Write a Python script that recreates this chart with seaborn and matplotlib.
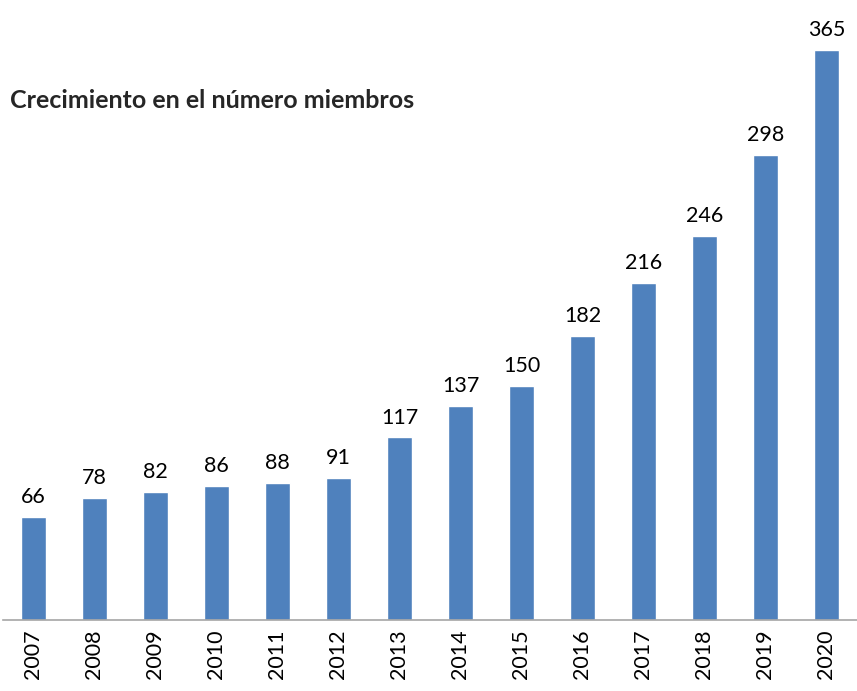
import matplotlib
matplotlib.use('Agg')
import matplotlib.pyplot as plt
import seaborn as sns
import pandas as pd

years = ['2007', '2008', '2009', '2010', '2011', '2012', '2013',
         '2014', '2015', '2016', '2017', '2018', '2019', '2020']
members = [66, 78, 82, 86, 88, 91, 117, 137, 150, 182, 216, 246, 298, 365]

sns.set_style('white')
plt.rcParams['font.family'] = ['Lato', 'DejaVu Sans']

df = pd.DataFrame({'year': years, 'members': members})

fig = plt.figure(figsize=(8.57, 6.91), dpi=100)
ax = fig.add_axes([0.0035, 0.1027, 0.9965, 0.8973])

sns.barplot(data=df, x='year', y='members', color='#4f81bd', width=0.4,
            saturation=1, ax=ax)
ax.bar_label(ax.containers[0], labels=[str(v) for v in members],
             padding=7, fontsize=15.5, color='black')

ax.set_ylim(0, 397)
ax.set_xlim(-0.5, len(years) - 0.5)
ax.set_xlabel('')
ax.set_ylabel('')
ax.set_yticks([])
ax.tick_params(axis='x', rotation=90, labelsize=15.5, length=0, pad=7, colors='black')
for side in ['top', 'right', 'left']:
    ax.spines[side].set_visible(False)
ax.spines['bottom'].set_color('#a6a6a6')
ax.spines['bottom'].set_linewidth(1.2)

fig.text(0.0117, 0.855, 'Crecimiento en el número miembros', fontsize=18,
         fontweight='bold', va='center', ha='left')

fig.savefig('out.png', dpi=100)
